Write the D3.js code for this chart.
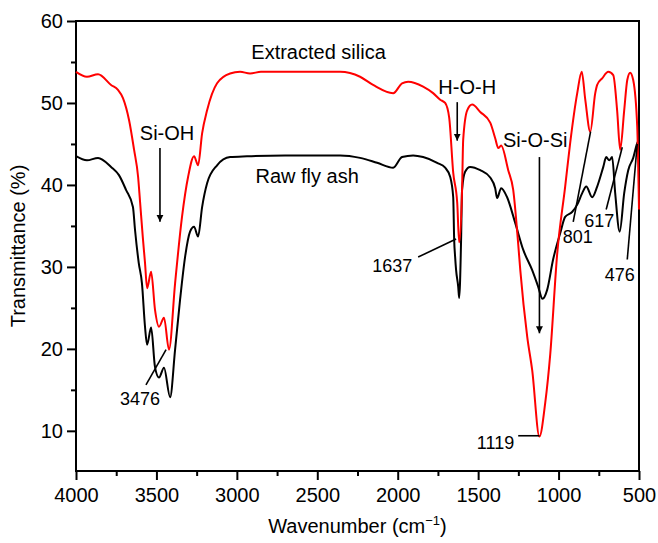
<!DOCTYPE html>
<html>
<head>
<meta charset="utf-8">
<script src="https://cdn.jsdelivr.net/npm/d3@7"></script>
<style>
  body { margin: 0; background: #fff; }
  text { font-family: "Liberation Sans", Arial, sans-serif; }
</style>
</head>
<body>
<svg id="chart" width="658" height="543"></svg>
<script>
// FTIR spectra: [wavenumber (cm-1), transmittance (%)]
const silica = [
  [4000,53.8],[3932,53.2],[3863,53.5],[3782,52.2],[3739,51.6],[3708,50.6],[3670,47.9],[3639,44.3],
  [3614,41],[3602,38],[3585,33.7],[3571,30.5],[3558,27.4],[3533,29.4],[3509,24.8],[3484,22.7],
  [3453,23.8],[3422,19.9],[3384,28],[3341,36.1],[3303,41],[3266,43.5],[3241,42.4],[3216,46.3],
  [3185,49.1],[3123,52.4],[3042,53.6],[2980,53.8],[2918,53.6],[2850,53.8],[2713,53.8],[2358,53.8],
  [2234,53.2],[2153,52.2],[2028,51.2],[1973,52.4],[1935,52.6],[1842,52],[1780,51.2],[1736,50.4],
  [1705,50],[1680,48.2],[1655,41.5],[1630,37.8],[1618,33],[1600,39.4],[1593,45.5],[1568,49.1],
  [1537,49.8],[1487,48.9],[1425,47.6],[1394,45.7],[1375,44.5],[1357,44.8],[1313,41.8],[1282,39.4],
  [1251,32.8],[1238,29.6],[1195,21.5],[1164,17.4],[1119,9.3],[1083,13.4],[1052,19.3],[1009,31.5],
  [959,39.8],[928,45.1],[884,51.2],[856,53.8],[834,50.4],[803,46.5],[772,51.2],[760,52.2],
  [729,53],[691,53.8],[660,53.4],[636,49.1],[617,44.3],[592,49.1],[573,52.8],[555,53.7],
  [536,52.8],[511,47.1],[500,37]
];
const flyAsh = [
  [4000,43.5],[3932,43],[3863,43.3],[3782,42.2],[3733,41.2],[3689,39.4],[3646,37.3],[3633,34.5],
  [3610,30.5],[3590,28],[3571,22.7],[3558,20.5],[3533,22.6],[3509,17.8],[3484,16.5],[3453,17.7],
  [3415,14.1],[3384,19.9],[3353,26],[3322,31.2],[3291,34.3],[3266,34.9],[3241,33.7],[3216,37.3],
  [3185,40.2],[3123,42.4],[3042,43.4],[2937,43.5],[2700,43.6],[2358,43.6],[2234,43.3],[2128,42.7],
  [2028,42.1],[1973,43.4],[1904,43.6],[1842,43.4],[1755,42.7],[1705,42.1],[1674,41],[1655,38.5],
  [1649,33.3],[1643,31.2],[1637,29.6],[1624,27.6],[1618,26.2],[1606,33.3],[1600,39.4],[1581,41.6],
  [1550,42.2],[1487,41.8],[1425,40.9],[1394,39.6],[1382,38.4],[1357,39.6],[1320,38.5],[1270,35.4],
  [1220,32.1],[1164,29.6],[1127,27.6],[1100,26.1],[1071,27.2],[1034,30.9],[990,34.1],[959,36.1],
  [916,36.7],[884,37.6],[853,39],[828,39.8],[791,38.5],[760,39.8],[722,42.2],[704,43.4],
  [685,43],[667,43.4],[648,39],[620,34.3],[592,39],[567,41.8],[536,43.3],[511,45.1],[500,45.5]
];

const xMajor = [4000, 3500, 3000, 2500, 2000, 1500, 1000, 500];
const xMinor = [3750, 3250, 2750, 2250, 1750, 1250, 750];
const yMajor = [10, 20, 30, 40, 50, 60];
const yMinor = [15, 25, 35, 45, 55];

// series names, peak labels and arrows in data units
const seriesLabels = [
  {text: "Extracted silica", x: 2492, y: 55.4},
  {text: "Raw fly ash", x: 2563, y: 40.2}
];
const groupLabels = [
  {text: "Si-OH", x: 3434, y: 45.5, from: [3478, 44.5], to: [3478, 35.5]},
  {text: "H-O-H", x: 1568, y: 51.1, from: [1630, 50.1], to: [1630, 45.4]},
  {text: "Si-O-Si", x: 1145, y: 44.6, from: [1119, 43.4], to: [1119, 21.9]}
];
const peakLabels = [
  {text: "3476", x: 3602, y: 13.2, anchor: "middle", from: [3565, 15.6], to: [3440, 19.9]},
  {text: "1637", x: 1910, y: 29.4, anchor: "end", from: [1873, 31.2], to: [1637, 33.4]},
  {text: "1119", x: 1276, y: 7.8, anchor: "end", from: [1251, 9.4], to: [1119, 9.4]},
  {text: "801", x: 881, y: 32.9, anchor: "middle", from: [909, 35.5], to: [801, 46.5]},
  {text: "617", x: 747, y: 34.9, anchor: "middle", from: [704, 37], to: [604, 44.6]},
  {text: "476", x: 620, y: 28.3, anchor: "middle", from: [573, 30.9], to: [511, 45]}
];

const svg = d3.select("#chart"),
      width = +svg.attr("width"),
      height = +svg.attr("height"),
      margin = {top: 21, right: 19, bottom: 72, left: 76};

const x = d3.scaleLinear().domain([4000, 500]).range([margin.left, width - margin.right]);
const y = d3.scaleLinear().domain([5.1, 60]).range([height - margin.bottom, margin.top]);

const fontSize = 20;

// minor ticks first, then major ticks with labels
svg.append("g")
    .attr("transform", `translate(0,${height - margin.bottom})`)
    .call(d3.axisBottom(x).tickValues(xMinor).tickSize(5).tickFormat(""));
svg.append("g")
    .attr("transform", `translate(0,${height - margin.bottom})`)
    .call(d3.axisBottom(x).tickValues(xMajor).tickSize(9).tickPadding(8).tickFormat(d3.format("d")));
svg.append("g")
    .attr("transform", `translate(${margin.left},0)`)
    .call(d3.axisLeft(y).tickValues(yMinor).tickSize(5).tickFormat(""));
svg.append("g")
    .attr("transform", `translate(${margin.left},0)`)
    .call(d3.axisLeft(y).tickValues(yMajor).tickSize(9).tickPadding(4).tickFormat(d3.format("d")));

svg.selectAll(".domain").remove();
svg.selectAll(".tick line").attr("stroke", "#000").attr("stroke-width", 2);
svg.selectAll(".tick text")
    .attr("fill", "#000")
    .style("font-size", fontSize + "px")
    .style("font-family", '"Liberation Sans", Arial, sans-serif');

// frame
svg.append("rect")
    .attr("x", margin.left)
    .attr("y", margin.top)
    .attr("width", width - margin.left - margin.right)
    .attr("height", height - margin.top - margin.bottom)
    .attr("fill", "none")
    .attr("stroke", "#000")
    .attr("stroke-width", 2);

// spectra
const line = d3.line()
    .x(d => x(d[0]))
    .y(d => y(d[1]))
    .curve(d3.curveMonotoneX);

svg.append("path")
    .datum(flyAsh)
    .attr("d", line)
    .attr("fill", "none")
    .attr("stroke", "#000")
    .attr("stroke-width", 2);

svg.append("path")
    .datum(silica)
    .attr("d", line)
    .attr("fill", "none")
    .attr("stroke", "#ff0000")
    .attr("stroke-width", 2);

// arrow head marker
svg.append("defs").append("marker")
    .attr("id", "head")
    .attr("viewBox", "0 0 10 10")
    .attr("refX", 10)
    .attr("refY", 5)
    .attr("markerUnits", "userSpaceOnUse")
    .attr("markerWidth", 7)
    .attr("markerHeight", 11)
    .attr("orient", "auto")
    .append("path")
    .attr("d", "M0,0 L10,5 L0,10 Z")
    .attr("fill", "#000");

seriesLabels.forEach(l => {
    svg.append("text")
        .attr("x", x(l.x))
        .attr("y", y(l.y))
        .attr("text-anchor", "middle")
        .style("font-size", fontSize + "px")
        .text(l.text);
});

groupLabels.forEach(l => {
    svg.append("text")
        .attr("x", x(l.x))
        .attr("y", y(l.y))
        .attr("text-anchor", "middle")
        .style("font-size", fontSize + "px")
        .text(l.text);
    svg.append("line")
        .attr("x1", x(l.from[0])).attr("y1", y(l.from[1]))
        .attr("x2", x(l.to[0])).attr("y2", y(l.to[1]))
        .attr("stroke", "#000")
        .attr("stroke-width", 1.6)
        .attr("marker-end", "url(#head)");
});

peakLabels.forEach(l => {
    svg.append("text")
        .attr("x", x(l.x))
        .attr("y", y(l.y))
        .attr("text-anchor", l.anchor)
        .style("font-size", "18px")
        .text(l.text);
    svg.append("line")
        .attr("x1", x(l.from[0])).attr("y1", y(l.from[1]))
        .attr("x2", x(l.to[0])).attr("y2", y(l.to[1]))
        .attr("stroke", "#000")
        .attr("stroke-width", 1.6);
});

// axis titles
const xTitle = svg.append("text")
    .attr("x", (margin.left + width - margin.right) / 2)
    .attr("y", height - 10)
    .attr("text-anchor", "middle")
    .style("font-size", fontSize + "px");
xTitle.append("tspan").text("Wavenumber (cm");
xTitle.append("tspan").attr("dy", -8).style("font-size", "13px").text("\u22121");
xTitle.append("tspan").attr("dy", 8).text(")");

svg.append("text")
    .attr("transform", `translate(25,${(margin.top + height - margin.bottom) / 2}) rotate(-90)`)
    .attr("text-anchor", "middle")
    .style("font-size", fontSize + "px")
    .text("Transmittance (%)");
</script>
</body>
</html>
